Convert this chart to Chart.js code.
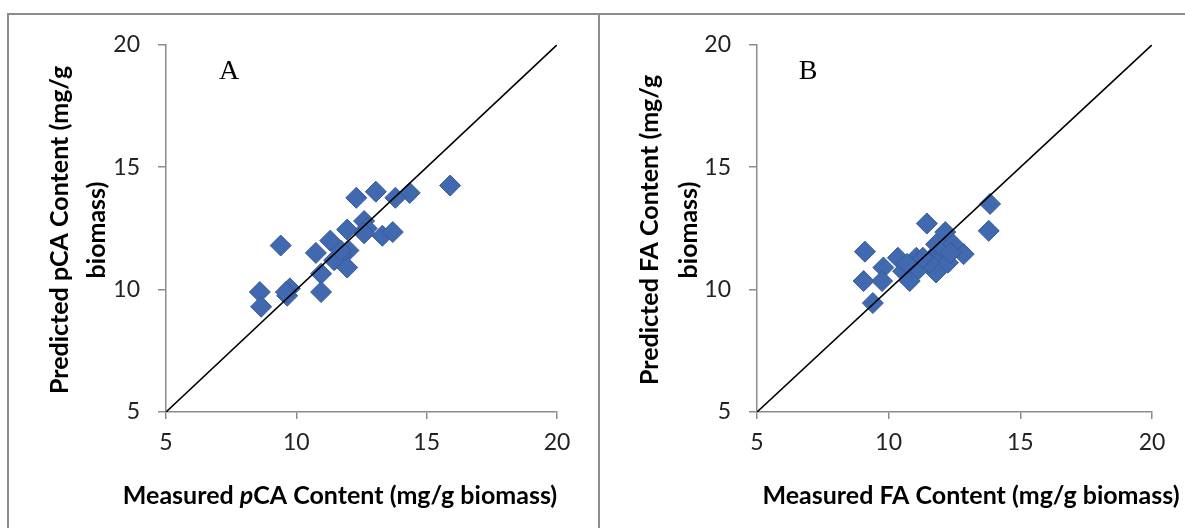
<!DOCTYPE html>
<html>
<head>
<meta charset="utf-8">
<script src="https://cdn.jsdelivr.net/npm/chart.js@4.4.1/dist/chart.umd.min.js"></script>
<style>
  body { margin: 0; width: 1185px; height: 528px; overflow: hidden; background: #fff; position: relative; }
  .frame { position: absolute; top: 13px; height: 600px; border: 2px solid #8c8c8c; box-sizing: border-box; }
  #frameA { left: 7px; width: 593px; }
  #frameB { left: 598px; width: 700px; }
  canvas { position: absolute; top: 13px; }
  #chartA { left: 8px; }
  #chartB { left: 599px; }
</style>
</head>
<body>
<div class="frame" id="frameA"></div>
<div class="frame" id="frameB"></div>
<canvas id="chartA" width="591" height="515"></canvas>
<canvas id="chartB" width="586" height="515"></canvas>
<script>
// axis range and ticks shared by both panels
const axisTicks = [5, 10, 15, 20];
const oneToOne = [5, 20];

// panel A: p-coumaric acid
const pcaMeasured  = [15.9, 14.35, 13.8, 13.05, 12.3, 12.6, 12.7, 12.6, 13.3, 13.7, 11.95, 11.3, 12.0, 11.7, 11.45, 11.95, 10.75, 10.95, 10.95, 9.4, 9.75, 9.65, 9.6, 8.6, 8.65, 11.7];
const pcaPredicted = [14.25, 13.95, 13.75, 14.0, 13.75, 12.8, 12.5, 12.3, 12.2, 12.35, 12.45, 12.0, 11.6, 11.4, 11.2, 10.9, 11.5, 10.65, 9.9, 11.8, 10.05, 9.75, 9.9, 9.9, 9.3, 11.6];

// panel B: ferulic acid
const faMeasured  = [13.85, 13.8, 11.45, 12.15, 9.1, 9.05, 9.4, 9.8, 9.75, 10.35, 10.55, 10.8, 11.05, 11.15, 11.65, 11.8, 12.1, 12.45, 12.85, 12.25, 11.8, 11.55, 11.3, 12.35, 10.7];
const faPredicted = [13.5, 12.4, 12.7, 12.35, 11.55, 10.35, 9.45, 10.9, 10.35, 11.3, 10.75, 10.35, 11.3, 10.85, 11.3, 11.85, 11.65, 11.85, 11.45, 11.1, 10.7, 11.1, 11.3, 11.5, 11.05];

const axisGray = '#8c8c8c';
const tickFont = { family: 'Lato', size: 23 };
const titleFont = 'bold 25px Lato';

function pairs(xs, ys) {
  return xs.map((x, i) => ({ x: x, y: ys[i] }));
}

// draws panel letter and the axis titles (x title may have an italic part)
function panelText(letter, letterPos, xTitle, xTitlePos, yLines, yLineX, yCenter) {
  return {
    id: 'panelText',
    afterDraw(chart) {
      const ctx = chart.ctx;
      ctx.save();
      ctx.fillStyle = '#000';
      ctx.textBaseline = 'middle';

      ctx.font = '28px "Liberation Serif"';
      ctx.textAlign = 'center';
      ctx.fillText(letter, letterPos[0], letterPos[1]);

      // x title, pieces laid out left to right
      ctx.textAlign = 'left';
      const fontOf = p => (p.italic ? 'italic ' : '') + titleFont;
      let total = 0;
      xTitle.forEach(p => { ctx.font = fontOf(p); total += ctx.measureText(p.text).width; });
      let x = xTitlePos[0] - total / 2;
      xTitle.forEach(p => {
        ctx.font = fontOf(p);
        ctx.fillText(p.text, x, xTitlePos[1]);
        x += ctx.measureText(p.text).width;
      });

      // y title, rotated
      ctx.font = titleFont;
      ctx.textAlign = 'center';
      yLines.forEach((line, i) => {
        ctx.save();
        ctx.translate(yLineX[i], yCenter);
        ctx.rotate(-Math.PI / 2);
        ctx.fillText(line, 0, 0);
        ctx.restore();
      });
      ctx.restore();
    }
  };
}

function makeChart(id, xs, ys, rightPad, plugin) {
  const ctx = document.getElementById(id).getContext('2d');
  return new Chart(ctx, {
    type: 'scatter',
    data: {
      datasets: [
        {
          type: 'line',
          data: pairs(oneToOne, oneToOne),
          borderColor: '#000',
          borderWidth: 1.6,
          pointRadius: 0,
          order: 0
        },
        {
          data: pairs(xs, ys),
          pointStyle: 'rectRot',
          pointRadius: 10.5,
          pointHoverRadius: 10.5,
          backgroundColor: '#4169af',
          borderColor: '#37599a',
          borderWidth: 1,
          order: 1
        }
      ]
    },
    options: {
      responsive: false,
      animation: false,
      layout: { padding: { top: 30, right: rightPad, left: 0, bottom: 0 } },
      plugins: { legend: { display: false }, tooltip: { enabled: false } },
      scales: {
        x: {
          type: 'linear',
          min: 5, max: 20,
          afterBuildTicks: s => { s.ticks = axisTicks.map(v => ({ value: v })); },
          afterFit: s => { s.height = 116; },
          grid: { drawOnChartArea: false, color: axisGray, lineWidth: 1.5, tickLength: 7 },
          border: { color: axisGray, width: 1.5 },
          ticks: { color: '#222', font: tickFont, padding: 10 }
        },
        y: {
          type: 'linear',
          min: 5, max: 20,
          afterBuildTicks: s => { s.ticks = axisTicks.map(v => ({ value: v })); },
          afterFit: s => { s.width = 158; },
          grid: { drawOnChartArea: false, color: axisGray, lineWidth: 1.5, tickLength: 8 },
          border: { color: axisGray, width: 1.5 },
          ticks: { color: '#222', font: tickFont, padding: 18 }
        }
      }
    },
    plugins: [plugin]
  });
}

makeChart('chartA', pcaMeasured, pcaPredicted, 42,
  panelText('A', [221, 59],
    [{ text: 'Measured ' }, { text: 'p', italic: true }, { text: 'CA Content (mg/g biomass)' }], [332, 483],
    ['Predicted pCA Content (mg/g', 'biomass)'], [52, 89], 217));

makeChart('chartB', faMeasured, faPredicted, 33,
  panelText('B', [209, 59],
    [{ text: 'Measured FA Content (mg/g biomass)' }], [372, 483],
    ['Predicted FA Content (mg/g', 'biomass)'], [51, 90], 217));
</script>
</body>
</html>
